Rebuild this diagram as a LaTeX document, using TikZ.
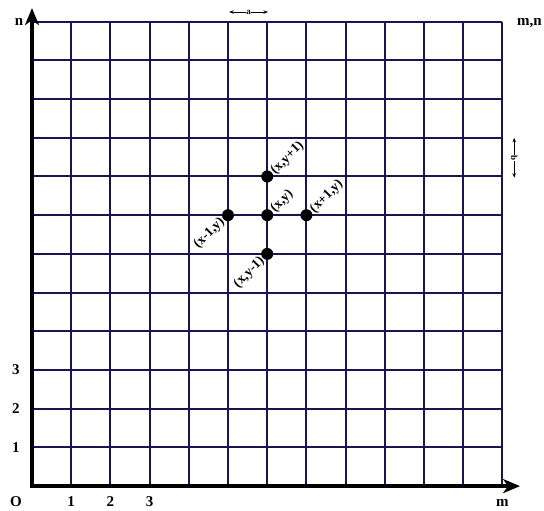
\documentclass[tikz,border=0pt]{standalone}
\usepackage{fontspec}
\setmainfont{Liberation Serif}
\usetikzlibrary{arrows.meta,positioning}
\definecolor{gridNavy}{RGB}{26, 20, 82}

\begin{document}
\begin{tikzpicture}[x=39.2pt, y=38.7pt,
    gridline/.style={gridNavy, line width=2pt},
    axis/.style={black, line width=3.6pt, line join=miter},
    dot/.style={circle, fill=black, minimum size=12pt, inner sep=0pt},
    ptlabel/.style={font=\fontsize{13.5}{13.5}\selectfont\bfseries, inner sep=1pt, rotate=45},
    axlabel/.style={font=\fontsize{15}{15}\selectfont\bfseries, inner sep=0pt},
    dimline/.style={black, line width=0.7pt, {Stealth[length=4.5pt,width=3.5pt]}-{Stealth[length=4.5pt,width=3.5pt]}},
    dimlabel/.style={font=\fontsize{9}{9}\selectfont\bfseries, fill=white, inner sep=0.6pt}]
    \useasboundingbox (-0.816,-0.62) rectangle (13.06,12.56);

    % grid
    \foreach \i in {1,...,12} {
        \draw[gridline] (\i,0) -- (\i,12);
        \draw[gridline] (0,\i) -- (12,\i);
    }

    % axes
    \coordinate (O) at (0,0);
    \coordinate (ytip) at (0,12.35);
    \coordinate (xtip) at (12.45,0);
    \draw[axis, {Stealth[length=17pt,width=14pt,inset=5pt]}-{Stealth[length=17pt,width=14pt,inset=5pt]}] (ytip) -- (O) -- (xtip);

    \node[axlabel] (labO) at (-0.41,-0.52) [anchor=base] {O};
    \foreach \k in {1,2,3} {
        \node[axlabel, anchor=base] (labx\k) at (\k,-0.52) {\k};
        \node[axlabel] (laby\k) at (-0.41,\k) {\k};
    }
    \node[axlabel, anchor=base] (labm) at (12,-0.52) {m};
    \node[axlabel] (labn) at (-0.33,12) {n};
    \node[axlabel, anchor=base west] (labmn) at (12.37,11.89) {m,n};

    % neighbouring points
    \node[dot] (pxy) at (6,7) {};
    \node[dot] (pup) at (6,8) {};
    \node[dot] (pdown) at (6,6) {};
    \node[dot] (pleft) at (5,7) {};
    \node[dot] (pright) at (7,7) {};

    \node[ptlabel, anchor=west] (lxy) at (pxy.40) {(x,y)};
    \node[ptlabel, anchor=west] (lup) at (pup.35) {(x,y+1)};
    \node[ptlabel, anchor=west] (lright) at (pright.35) {(x+1,y)};
    \node[ptlabel, anchor=east] (lleft) at (pleft.220) {(x-1,y)};
    \node[ptlabel, anchor=east] (ldown) at (pdown.230) {(x,y-1)};

    % cell size
    \coordinate (a1) at (5.03,12.25);
    \coordinate (a2) at (6.02,12.25);
    \draw[dimline] (a1) -- (a2) node[dimlabel, midway] (laba) {a};
    \coordinate (b1) at (12.3,9.0);
    \coordinate (b2) at (12.3,7.97);
    \draw[dimline] (b1) -- (b2) node[dimlabel, midway, rotate=-90] (labb) {b};
\end{tikzpicture}
\end{document}
